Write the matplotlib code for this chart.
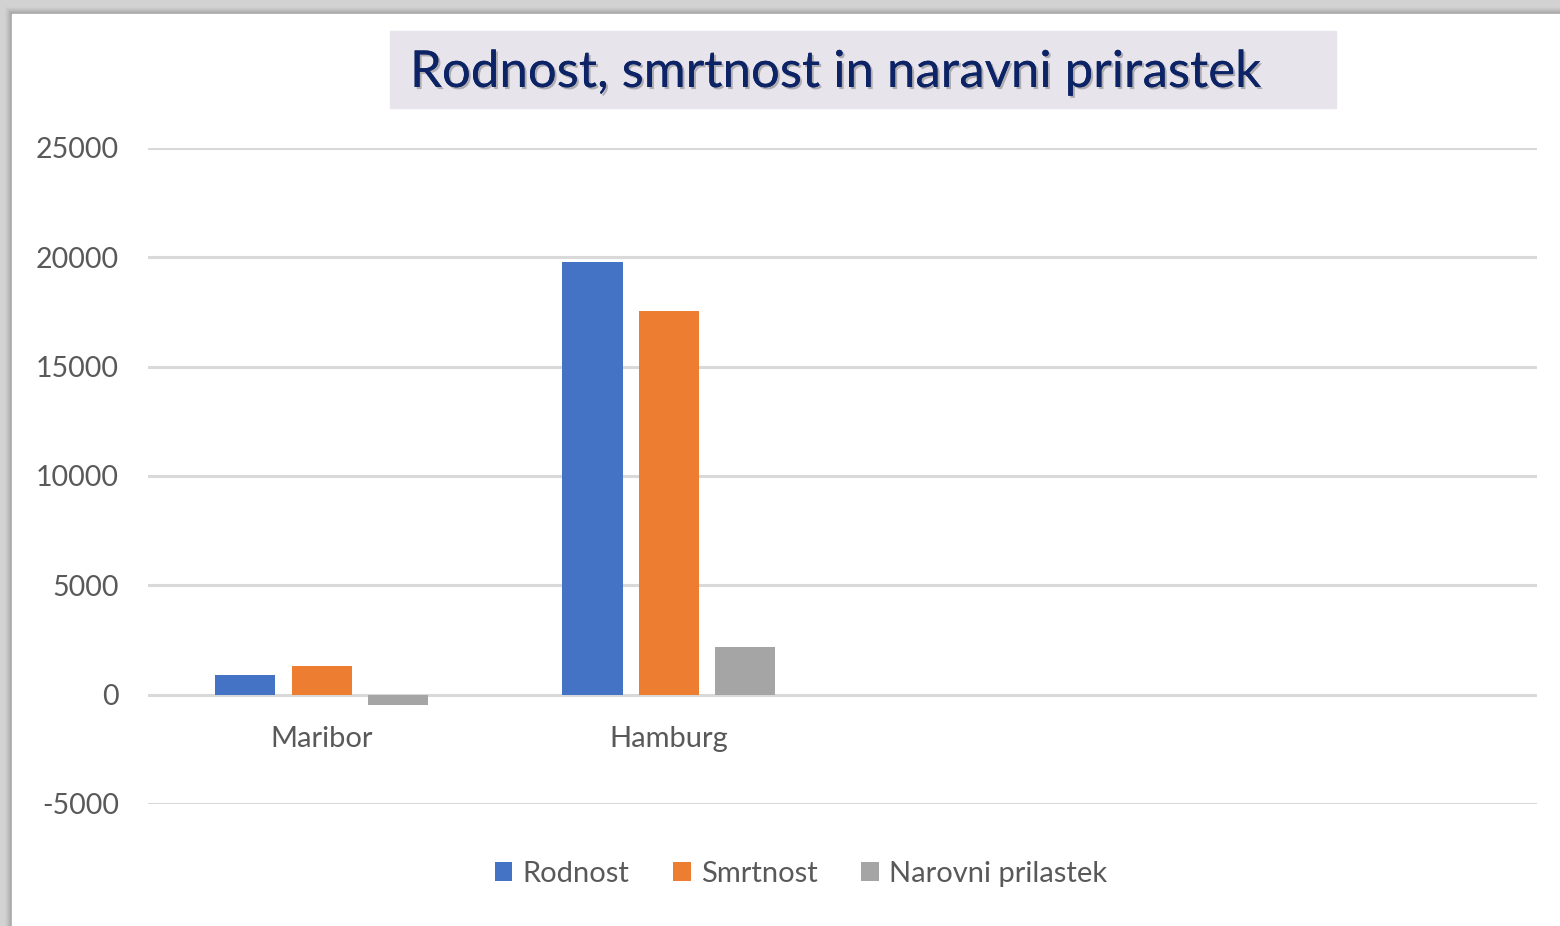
import numpy as np
import matplotlib
matplotlib.use("Agg")
import matplotlib.pyplot as plt
import matplotlib.patheffects as pe
from matplotlib.patches import Rectangle

# podatki
mesta = ["Maribor", "Hamburg", "", ""]
rodnost = [900, 19800, 0, 0]
smrtnost = [1300, 17550, 0, 0]
prirastek = [-450, 2200, 0, 0]
serije = ["Rodnost", "Smrtnost", "Narovni prilastek"]
barve = ["#4472c4", "#ed7d31", "#a5a5a5"]
yticks = [-5000, 0, 5000, 10000, 15000, 20000, 25000]

W, H = 1560, 926
fig = plt.figure(figsize=(W / 100, H / 100), dpi=100)
fig.patch.set_facecolor("#d2d2d2")

# senca okvirja in bela podlaga
bg = fig.add_axes([0, 0, 1, 1])
bg.set_xlim(0, W)
bg.set_ylim(H, 0)
bg.axis("off")
sence = ["#d0d0d0", "#cbcbcb", "#c5c5c5", "#bebebe", "#b6b6b6", "#adadad", "#a6a6a6"]
for i, c in enumerate(sence):
    bg.add_patch(Rectangle((12 - 7 + i, 14 - 7 + i), W, H, color=c, zorder=0.1 + i * 0.01))
bg.add_patch(Rectangle((12, 14), W, H, color="white", zorder=1))
bg.add_patch(Rectangle((390, 31), 946, 77, color="#e8e4ec", zorder=2))
bg.text(410, 73, "Rodnost, smrtnost in naravni prirastek", fontsize=36.7,
        family="Lato", color="#0c2366", va="center", ha="left", zorder=3,
        path_effects=[pe.withSimplePatchShadow(offset=(1.5, -1.5), shadow_rgbFace="#888888", alpha=0.6),
                      pe.Normal()])

ax = fig.add_axes([148 / W, 1 - 804 / H, (1537 - 148) / W, (804 - 148) / H])
ax.set_facecolor("white")
x = np.arange(len(mesta))
sirina = 0.173
razmik = 0.22
for k, (vrednosti, ime) in enumerate(zip([rodnost, smrtnost, prirastek], serije)):
    ax.bar(x + (k - 1) * razmik, vrednosti, width=sirina, color=barve[k], label=ime, zorder=3)

ax.set_xlim(-0.5, len(mesta) - 0.5)
ax.set_ylim(-5000, 25000)
ax.set_yticks(yticks)
ax.set_yticklabels([str(v) for v in yticks], fontsize=20.5, family="Lato", color="#595959")
ax.set_xticks([])
ax.grid(axis="y", color="#d9d9d9", lw=2.2, zorder=0)
ax.tick_params(axis="y", length=0, pad=21)
for s in ax.spines.values():
    s.set_visible(False)

for i, m in enumerate(mesta):
    if m:
        ax.text(i, -2050, m, ha="center", va="center", fontsize=21, family="Lato", color="#595959")

ax.legend(loc="center", bbox_to_anchor=(801 / W, 1 - 874 / H), bbox_transform=fig.transFigure,
          ncol=3, frameon=False, prop={"family": "Lato", "size": 21}, labelcolor="#595959",
          handlelength=0.6, handleheight=0.6, handletextpad=0.35, columnspacing=1.5)

plt.savefig("out.png", dpi=100)
